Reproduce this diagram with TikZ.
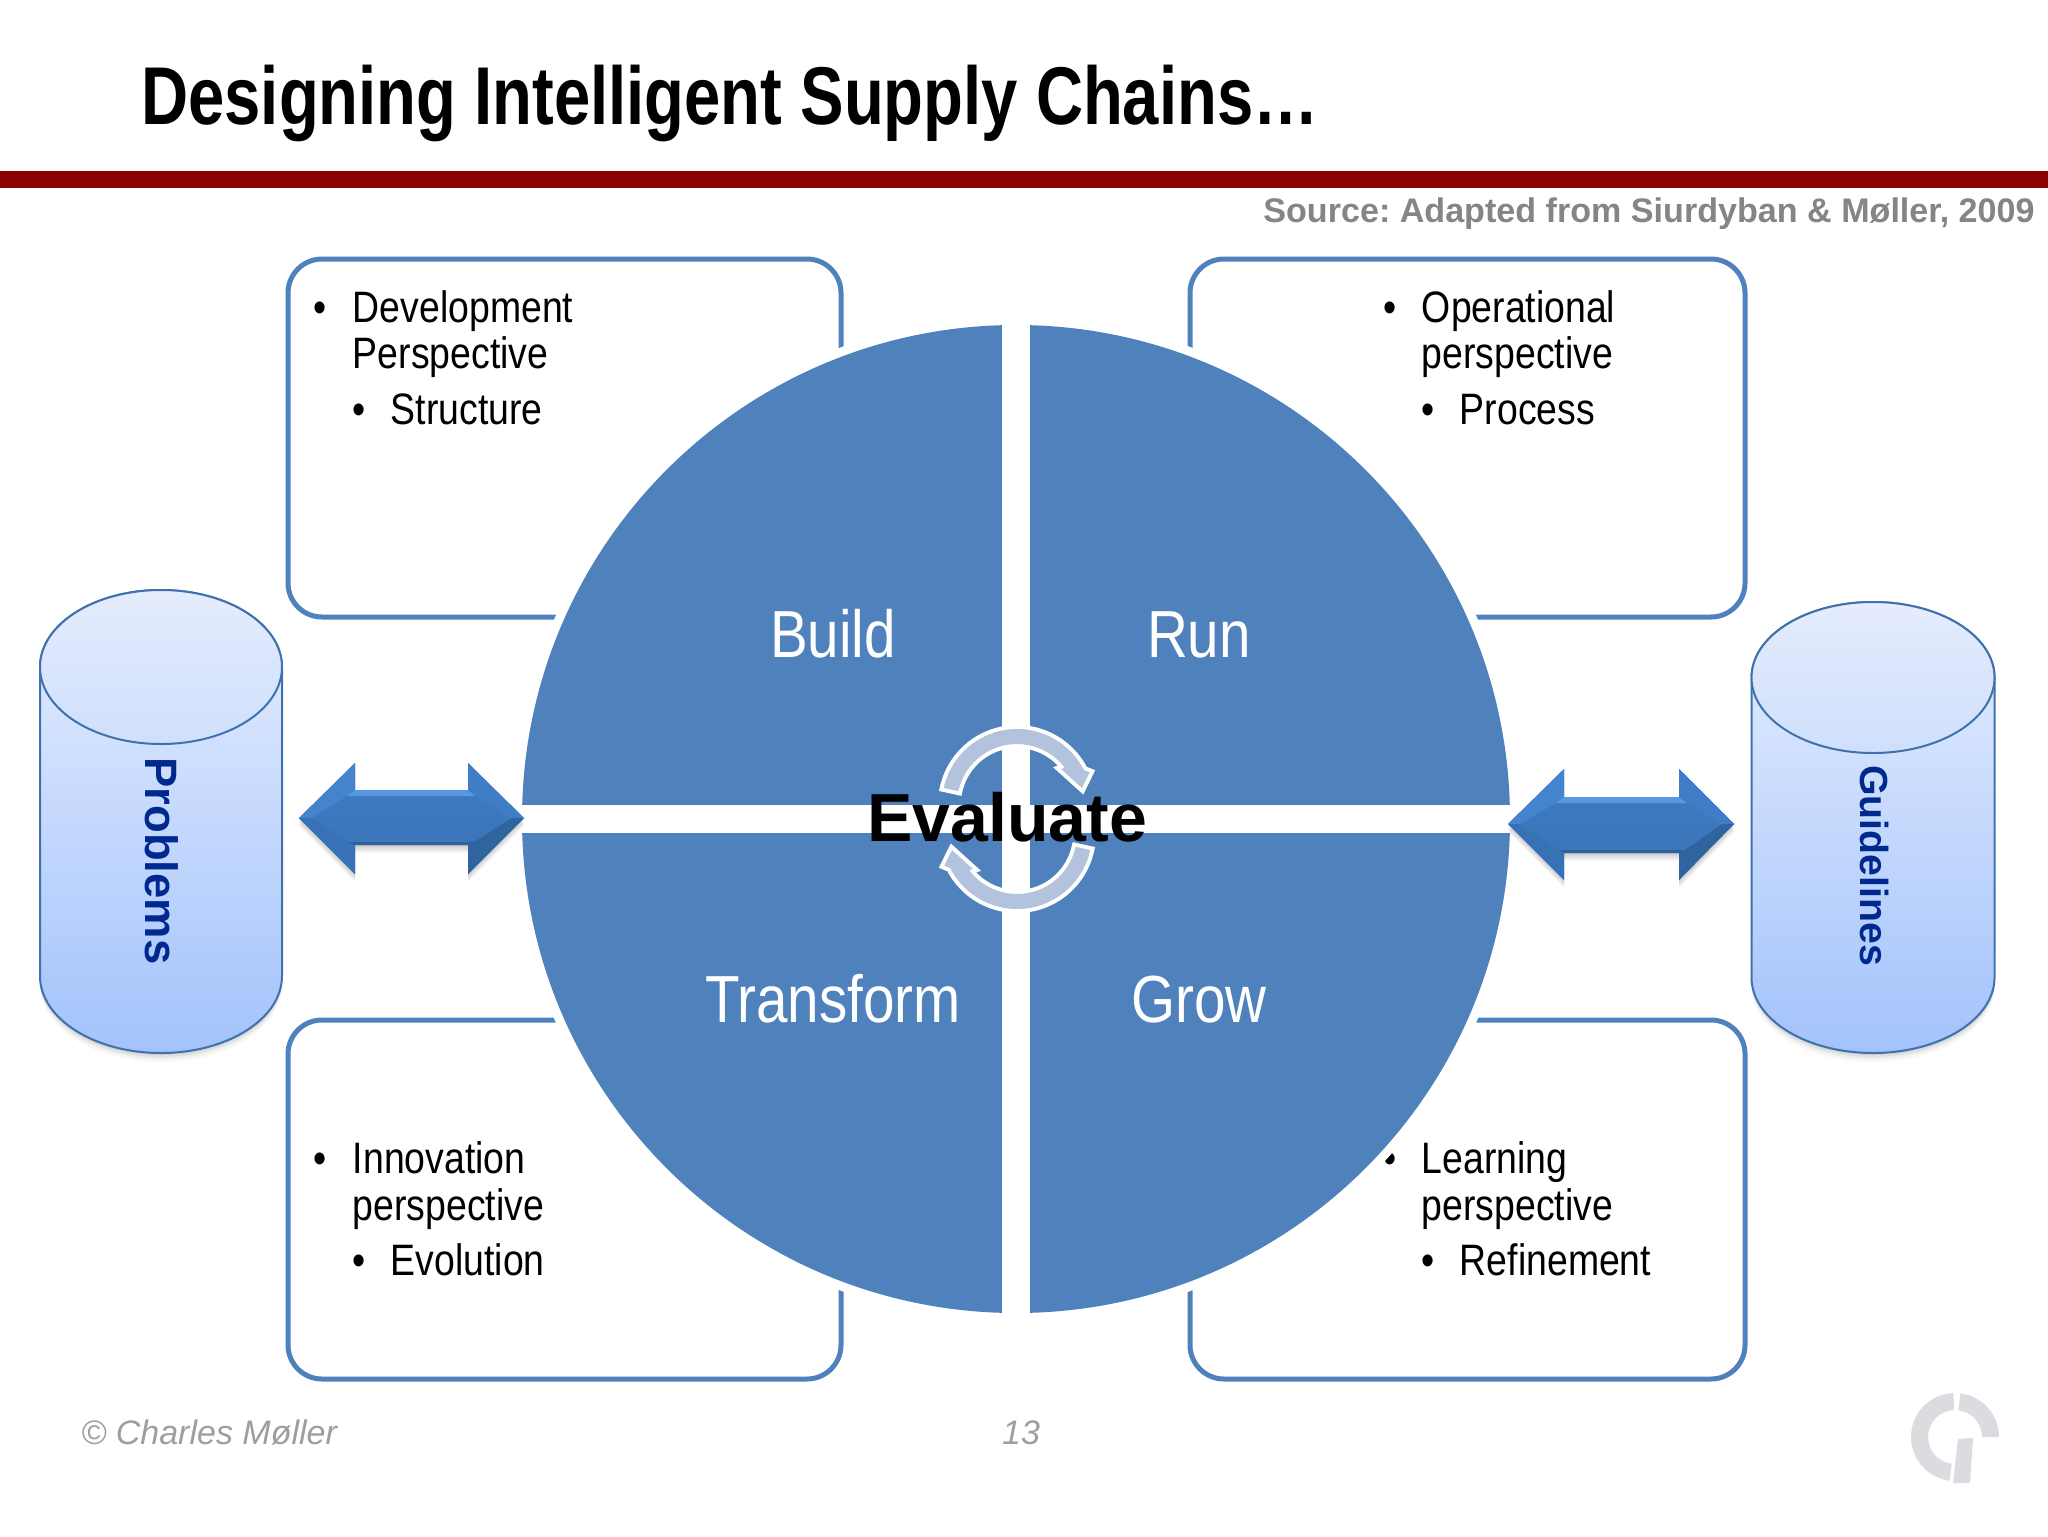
\documentclass[tikz,border=0pt]{standalone}
\usepackage{fontspec}
\setmainfont{Liberation Sans}
\newfontfamily\nar[FakeStretch=0.85]{Liberation Sans}
\newfontfamily\nart[FakeStretch=0.795]{Liberation Sans}
\frenchspacing
\definecolor{qblue}{HTML}{4F81BD}
\definecolor{bandc}{HTML}{B3C3DE}
\definecolor{cylline}{HTML}{3F72AC}
\definecolor{cyltext}{HTML}{00298F}
\definecolor{barred}{HTML}{8B0000}
\definecolor{logoc}{HTML}{DCDCE0}
\definecolor{arrowhi}{HTML}{4484CE}
\definecolor{arrowtop}{HTML}{5898E0}
\definecolor{arrowrt}{HTML}{3F7DC6}
\definecolor{arrowll}{HTML}{3872B6}
\definecolor{arrowlr}{HTML}{2F649F}
\definecolor{arrowbot}{HTML}{2F619C}
\definecolor{arrowa}{HTML}{3E7CC4}
\definecolor{arrowb}{HTML}{3A73B5}
\definecolor{cyla}{HTML}{E6EEFF}
\definecolor{cylb}{HTML}{A3C3FB}
\definecolor{cylc}{HTML}{E5ECFD}
\definecolor{cyld}{HTML}{CFDFFC}
\tikzset{
  card/.style={draw=qblue,line width=2.5pt,rounded corners=17pt,fill=white},
  boxtext/.style={anchor=base west,inner sep=0pt,font=\nar\fontsize{22}{26}\selectfont,text=black},
  quadlabel/.style={anchor=base,inner sep=0pt,font=\nar\fontsize{33.3}{40}\selectfont,text=white},
  cyllabel/.style={rotate=-90,anchor=base west,inner sep=0pt,text=cyltext},
  footer/.style={inner sep=0pt,font=\itshape\fontsize{17}{20}\selectfont,text=black!38},
}
% xL xi1 xi2 xR yc headtop headbot shafttop | shaftbot
\newcommand{\dblarrow}[9]{%
  \foreach \o/\d in {.05/2,.05/4,.05/6,.04/8}{
    \fill[black,opacity=\o] (#1,#5+\d) -- (#2,#6+\d) -- (#2,#8+\d) -- (#3,#8+\d) -- (#3,#6+\d) -- (#4,#5+\d) -- (#3,#7+\d) -- (#3,#9+\d) -- (#2,#9+\d) -- (#2,#7+\d) -- cycle;
  }
  \path[shade,top color=arrowa,bottom color=arrowb] (#1,#5) -- (#2,#6) -- (#2,#8) -- (#3,#8) -- (#3,#6) -- (#4,#5) -- (#3,#7) -- (#3,#9) -- (#2,#9) -- (#2,#7) -- cycle;
  \fill[color=arrowhi] (#1,#5) -- (#2,#6) -- (#2,#8) -- (#2-8,#8+6) -- (#1+12,#5) -- cycle;
  \fill[color=arrowtop] (#2,#8) -- (#3,#8) -- (#3+8,#8+6) -- (#2-8,#8+6) -- cycle;
  \fill[color=arrowrt] (#3,#6) -- (#4,#5) -- (#4-12,#5) -- (#3+8,#8+6) -- (#3,#8) -- cycle;
  \fill[color=arrowll] (#1,#5) -- (#2,#7) -- (#2,#9) -- (#2-6,#9-3) -- (#1+12,#5) -- cycle;
  \fill[color=arrowlr] (#4,#5) -- (#3,#7) -- (#3,#9) -- (#3+6,#9-3) -- (#4-12,#5) -- cycle;
  \fill[color=arrowbot] (#2,#9) -- (#3,#9) -- (#3+6,#9-3) -- (#2-6,#9-3) -- cycle;
}
% cx rx cy ry by
\newcommand{\cylinder}[5]{%
  \foreach \o/\d in {.06/2,.05/4,.04/6,.03/9}{
    \fill[black,opacity=\o] (#1-#2,#3+\d) -- (#1-#2,#5+\d) arc[start angle=180,end angle=0,x radius=#2,y radius=#4] -- (#1+#2,#3+\d) -- cycle;
  }
  \path[draw=cylline,line width=1pt,shade,top color=cyla,bottom color=cylb] (#1-#2,#3) -- (#1-#2,#5) arc[start angle=180,end angle=0,x radius=#2,y radius=#4] -- (#1+#2,#3) arc[start angle=0,end angle=-180,x radius=#2,y radius=#4] -- cycle;
  \path[draw=cylline,line width=1pt,shade,top color=cylc,bottom color=cyld] (#1,#3) ellipse[x radius=#2,y radius=#4];
}
\newcommand{\bandpath}{(192.4:75) arc[start angle=192.4,end angle=333,radius=75] -- (72.7,-31.7) -- (65,-16) -- (44,-35) -- (47.9,-36.1) arc[start angle=323,end angle=192.4,radius=60] -- cycle}
\begin{document}
\begin{tikzpicture}[x=0.5pt,y=0.5pt,yscale=-1]
\useasboundingbox (0,0) rectangle (2048,1536);
\fill[white] (0,0) rectangle (2048,1536);

% header
\node[anchor=base west,inner sep=0pt,font=\nart\bfseries\fontsize{41}{48}\selectfont] (title) at (141,125) {Designing Intelligent Supply Chains…};
\fill[barred] (0,171) rectangle (2048,188);
\node[anchor=base east,inner sep=0pt,font=\bfseries\fontsize{17.05}{20}\selectfont,text=black!48] (source) at (2035,222) {Source: Adapted from Siurdyban \& Møller, 2009};

% cards
\draw[card] (288,259) rectangle (841,617);
\draw[card] (1190,259) rectangle (1745,617);
\draw[card] (288,1020) rectangle (841,1379);
\draw[card] (1190,1020) rectangle (1745,1379);

% card texts
\node[boxtext] (b1) at (313,322) {•};
\node[boxtext] (t1a) at (352.5,322) {Development};
\node[boxtext] (t1b) at (352.5,368) {Perspective};
\node[boxtext] (b1s) at (352,424) {•};
\node[boxtext] (t1c) at (390.5,424) {Structure};

\node[boxtext] (b2) at (1383,322) {•};
\node[boxtext] (t2a) at (1421.5,322) {Operational};
\node[boxtext] (t2b) at (1421.5,368) {perspective};
\node[boxtext] (b2s) at (1421,424) {•};
\node[boxtext] (t2c) at (1459.5,424) {Process};

\node[boxtext] (b3) at (313,1173) {•};
\node[boxtext] (t3a) at (352.5,1173) {Innovation};
\node[boxtext] (t3b) at (352.5,1220) {perspective};
\node[boxtext] (b3s) at (352,1275) {•};
\node[boxtext] (t3c) at (390.5,1275) {Evolution};

\node[boxtext] (b4) at (1383,1173) {•};
\node[boxtext] (t4a) at (1421.5,1173) {Learning};
\node[boxtext] (t4b) at (1421.5,1220) {perspective};
\node[boxtext] (b4s) at (1421,1275) {•};
\node[boxtext] (t4c) at (1459.5,1275) {Refinement};

% central disc
\fill[white] (1016,819) circle[radius=503];
\fill[qblue] (1016,819) circle[radius=494];
\fill[white] (1002,320) rectangle (1030,1318);
\fill[white] (517,805) rectangle (1515,833);

\node[quadlabel] (build) at (833,657) {Build};
\node[quadlabel] (run) at (1199,657) {Run};
\node[quadlabel] (transform) at (833,1022) {Transform};
\node[quadlabel] (grow) at (1199,1022) {Grow};

% cycle arrows
\begin{scope}[shift={(1017,804)}]
  \path[draw=white,line width=4pt,miter limit=6] \bandpath;
  \fill[bandc] \bandpath;
\end{scope}
\begin{scope}[shift={(1017,834)},rotate=180]
  \path[draw=white,line width=4pt,miter limit=6] \bandpath;
  \fill[bandc] \bandpath;
\end{scope}
\node[anchor=base west,inner sep=0pt,font=\bfseries\fontsize{34}{38}\selectfont] (evaluate) at (867,841) {Evaluate};

% cylinders
\cylinder{161}{121}{667}{77}{976}
\cylinder{1873}{121.5}{677.5}{75.5}{977.5}
\node[cyllabel,font=\bfseries\fontsize{22.7}{26}\selectfont] (problems) at (145,757) {Problems};
\node[cyllabel,font=\bfseries\fontsize{19.6}{24}\selectfont] (guidelines) at (1860,765) {Guidelines};

% double arrows
\dblarrow{299}{355}{468}{524}{818}{763}{874}{790}{845}
\dblarrow{1508}{1564}{1679}{1734}{824}{769}{880}{797}{853}

% footer
\node[footer,anchor=base west] (copyright) at (81,1444) {© Charles Møller};
\node[footer,anchor=base] (pageno) at (1021,1444) {13};

% logo
\fill[logoc] (1955,1437) ++(268:44) arc[start angle=268,end angle=97,radius=44] -- ++(97:-17) arc[start angle=97,end angle=268,radius=27] -- cycle;
\fill[logoc] (1955,1437) ++(277:44) arc[start angle=277,end angle=360,radius=44] -- ++(-17,0) arc[start angle=360,end angle=277,radius=27] -- cycle;
\fill[logoc] (1958,1439) -- (1973,1438) -- (1970,1483) -- (1953,1483) -- cycle;
\end{tikzpicture}
\end{document}
